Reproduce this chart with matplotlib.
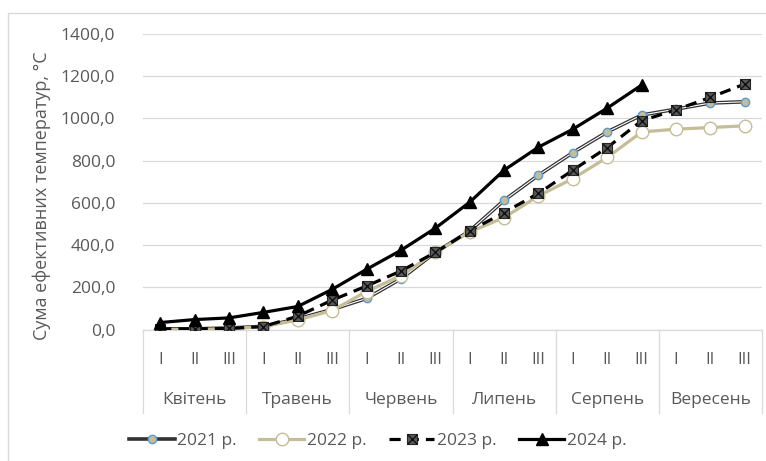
import numpy as np
import matplotlib
matplotlib.use("Agg")
import matplotlib.pyplot as plt
from matplotlib.legend_handler import HandlerTuple
from matplotlib.patches import Rectangle
import matplotlib.transforms as mtransforms
from matplotlib.ticker import FuncFormatter

plt.rcParams['font.family'] = ['Open Sans', 'DejaVu Sans']

months = ["Квітень", "Травень", "Червень", "Липень", "Серпень", "Вересень"]
decades = ["I", "II", "III"]
series_names = ["2021 р.", "2022 р.", "2023 р.", "2024 р."]

v2021 = [3, 3, 7, 15, 50, 95, 147, 240, 365, 467, 612, 731, 838, 936, 1016, 1044, 1073, 1079]
v2022 = [0, 0, 3, 14, 45, 90, 180, 255, 365, 462, 530, 633, 715, 815, 936, 949, 957, 965]
v2023 = [3, 3, 5, 14, 63, 139, 206, 277, 365, 467, 554, 645, 755, 862, 989, 1041, 1100, 1163]
v2024 = [33, 47, 55, 81, 109, 190, 285, 375, 480, 603, 755, 864, 949, 1049, 1158,
         np.nan, np.nan, np.nan]

yticks = [0, 200, 400, 600, 800, 1000, 1200, 1400]

W, H = 766, 461
fig = plt.figure(figsize=(W / 100, H / 100), dpi=100)
ax = fig.add_axes([143 / W, 1 - 329.5 / H, (762 - 143) / W, (329.5 - 34) / H])

n = len(months) * len(decades)
x = np.arange(n)

grey = '#595959'
grid = '#d9d9d9'
tan = '#c4bd97'

# 2021: double line
l21a, = ax.plot(x, v2021, color='#333333', lw=2.6, zorder=3, solid_joinstyle='round')
l21b, = ax.plot(x, v2021, color='white', lw=0.8, zorder=3.1)
m21, = ax.plot(x, v2021, ls='none', marker='o', ms=6, mfc=tan, mec='#5b9bd5', mew=1.0, zorder=3.2)

# 2022
l22, = ax.plot(x, v2022, color=tan, lw=2.3, zorder=4)
m22, = ax.plot(x, v2022, ls='none', marker='o', ms=9, mfc='white', mec=tan, mew=1.0, zorder=4.1)

# 2023
l23, = ax.plot(x, v2023, color='black', lw=2.3, ls=(0, (3.5, 2.2)), zorder=5)
m23, = ax.plot(x, v2023, ls='none', marker='s', ms=7.5, mfc=grey, mec='#262626', mew=0.8, zorder=5.1)
m23x, = ax.plot(x, v2023, ls='none', marker='x', ms=6.5, mec='#111111', mew=1.0, zorder=5.2)

# 2024
l24, = ax.plot(x, v2024, color='black', lw=2.3, marker='^', ms=8.5, mfc='black', mec='black', zorder=6)

ax.set_xlim(-0.5, n - 0.5)
ax.set_ylim(0, 1400)
ax.set_yticks(yticks)
ax.yaxis.set_major_formatter(FuncFormatter(lambda v, p: f"{v:.1f}".replace('.', ',')))
ax.tick_params(axis='y', length=0, pad=20, labelsize=12.5, labelcolor=grey)
ax.set_xticks([])
ax.grid(axis='y', color=grid, lw=0.9)
ax.set_axisbelow(True)
for s in ['left', 'right', 'top']:
    ax.spines[s].set_visible(False)
ax.spines['bottom'].set_color(grid)
ax.spines['bottom'].set_linewidth(0.9)

trans = mtransforms.blended_transform_factory(ax.transData, ax.transAxes)
y_dec = -(360 - 329.5) / (329.5 - 34)
y_mon = -(400 - 329.5) / (329.5 - 34)
y_sep = -(413 - 329.5) / (329.5 - 34)
for i in range(n):
    ax.text(i, y_dec, decades[i % 3], transform=trans, ha='center', va='center',
            fontsize=12, color=grey)
for j, m in enumerate(months):
    ax.text(3 * j + 1, y_mon, m, transform=trans, ha='center', va='center',
            fontsize=12.5, color=grey)
for k in range(len(months) + 1):
    ax.plot([3 * k - 0.5, 3 * k - 0.5], [0, y_sep], transform=trans, color=grid,
            lw=0.9, clip_on=False)

fig.text(42 / W, 1 - 196 / H, "Сума ефективних температур, °С", rotation=90,
         ha='center', va='center', fontsize=13, color=grey)

# chart border
fig.patches.append(Rectangle((8 / W, -0.1), 1.2, 1 - 13 / H + 0.1, transform=fig.transFigure,
                             fill=False, edgecolor=grid, lw=1.0))

h21 = (l21a, m21)
h22 = (l22, m22)
h23 = (l23, m23, m23x)
leg = fig.legend([h21, h22, h23, l24], series_names, loc='center',
                 bbox_to_anchor=(378 / W, 1 - 441 / H), ncol=4, frameon=False,
                 handler_map={tuple: HandlerTuple(ndivide=1, pad=0)},
                 handlelength=2.6, handletextpad=0.15, columnspacing=1.3,
                 fontsize=12.5, labelcolor=grey)

fig.savefig("out.png", dpi=100)
